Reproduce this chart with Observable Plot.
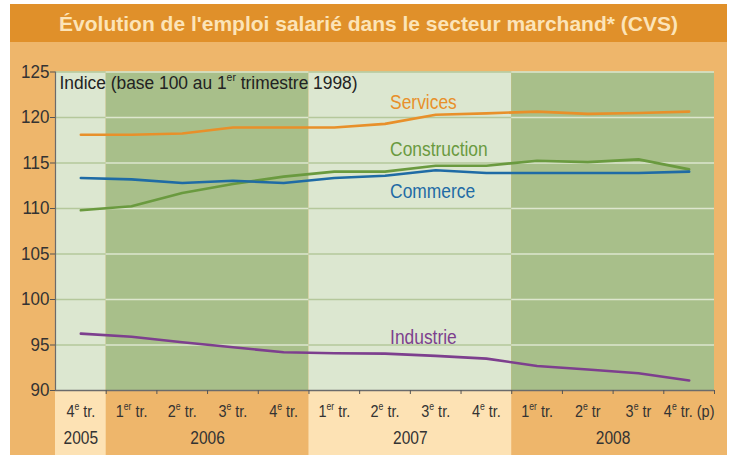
<!DOCTYPE html>
<html><head><meta charset="utf-8">
<script src="https://cdn.jsdelivr.net/npm/d3@7"></script>
<script src="https://cdn.jsdelivr.net/npm/@observablehq/plot@0.6"></script>
<style>
body{margin:0;background:#fff;font-family:"Liberation Sans",Arial,sans-serif;}
#wrap{position:relative;width:736px;height:455px;overflow:hidden;}
#title{position:absolute;left:10px;top:4px;width:717px;height:38px;background:#E0902A;color:#FCE4B8;font-weight:bold;font-size:21px;text-align:center;line-height:39px;}
#panel{position:absolute;left:10px;top:42px;width:717px;height:413px;background:#EEB66B;}
#chart{position:absolute;left:0;top:42px;}
</style></head><body>
<div id="wrap">
<div id="title">Évolution de l'emploi salarié dans le secteur marchand* (CVS)</div>
<div id="panel"></div>
<div id="chart"></div>
</div>
<script>
// ---- data ----
const quarters = ["4{e} tr.","1{er} tr.","2{e} tr.","3{e} tr.","4{e} tr.","1{er} tr.","2{e} tr.","3{e} tr.","4{e} tr.","1{er} tr.","2{e} tr","3{e} tr","4{e} tr. (p)"];
const years = ["2005","2006","2007","2008"];
const quartersPerYear = [1,4,4,4];
const services     = [118.1,118.1,118.25,118.9,118.9,118.9,119.3,120.3,120.45,120.65,120.4,120.5,120.65];
const construction = [109.8,110.25,111.7,112.7,113.5,114.05,114.05,114.7,114.7,115.25,115.1,115.4,114.3];
const commerce     = [113.35,113.2,112.8,113.05,112.8,113.35,113.6,114.2,113.9,113.9,113.9,113.9,114.05];
const industrie    = [96.25,95.9,95.3,94.75,94.2,94.1,94.05,93.8,93.5,92.7,92.3,91.9,91.1];
const seriesNames  = ["Services","Construction","Commerce","Industrie"];
const seriesColors = ["#E8902A","#6A9A3F","#1F6BA5","#7D3F8E"];
const labelX = [6.1,6.1,6.1,6.1];
const labelY = [121.65,116.5,111.9,95.8];
const yTicks = [90,95,100,105,110,115,120,125];
const unitLabel = "Indice (base 100 au 1{er} trimestre 1998)";

// ---- build ----
const allSeries = [services,construction,commerce,industrie];
const n = quarters.length;
const idx = d3.range(n);
const bands = [];
let s = 0;
years.forEach((y,i)=>{bands.push({year:y,x1:s-0.5,x2:s+quartersPerYear[i]-0.5,dark:i%2===1}); s+=quartersPerYear[i];});
const grid = bands.flatMap(b=>yTicks.filter(t=>t>90).map(t=>({...b,t})));
const rows = seriesNames.flatMap((name,k)=>allSeries[k].map((v,i)=>({name,i,v,color:seriesColors[k]})));
const labels = seriesNames.map((name,k)=>({name,x:labelX[k],y:labelY[k],color:seriesColors[k]}));
const boundaries = d3.range(n).map(i=>i+0.5);

// horizontal condensing per text class (narrow face look)
const squeeze = {"t-ytick":0.92,"t-quarter":0.85,"t-year":0.84,"t-series":0.87,"t-unit":0.94};

const chart = Plot.plot({
  width:736, height:413,
  marginTop:29.5, marginLeft:55, marginRight:22, marginBottom:65,
  x:{domain:[-0.5,n-0.5], axis:null},
  y:{domain:[90,125], axis:null},
  style:{background:"transparent", overflow:"visible", fontFamily:'"Liberation Sans",Arial,sans-serif'},
  marks:[
    Plot.rect(bands,{x1:"x1",x2:"x2",fill:d=>d.dark?"#A8BF8A":"#DCE7D0"}),
    Plot.rect(bands.filter(b=>!b.dark),{x1:"x1",x2:"x2",y1:90,y2:90,insetBottom:-65,fill:"#FDE2B4"}),
    Plot.ruleY(grid,{y:"t",x1:"x1",x2:"x2",stroke:d=>d.dark?"#DDE6CE":"#B5C89B",strokeWidth:1.3}),
    Plot.ruleX([-0.5],{stroke:"#6b6b6b",strokeWidth:1.2}),
    Plot.ruleY([90],{stroke:"#6b6b6b",strokeWidth:1.5}),
    Plot.ruleX(boundaries,{y1:90,y2:90,insetBottom:-4,stroke:"#555"}),
    Plot.ruleY(yTicks,{x1:-0.5,x2:-0.5,insetLeft:-5,stroke:"#555"}),
    Plot.text(yTicks,{y:d=>d,text:d=>String(d),frameAnchor:"left",dx:-6,textAnchor:"end",lineAnchor:"middle",fontSize:18.5,fill:"#333",className:"t-ytick"}),
    Plot.line(rows,{x:"i",y:"v",z:"name",stroke:"color",strokeWidth:2.6}),
    Plot.text(labels,{x:"x",y:"y",text:"name",fill:"color",textAnchor:"start",fontSize:20,className:"t-series"}),
    Plot.text([unitLabel],{frameAnchor:"top-left",text:d=>d,dx:4,dy:11,lineAnchor:"middle",textAnchor:"start",fontSize:18.5,fill:"#222",className:"t-unit"}),
    Plot.text(idx,{x:d=>d,text:d=>quarters[d],frameAnchor:"bottom",dy:21,lineAnchor:"middle",fontSize:17,fill:"#333",className:"t-quarter"}),
    Plot.text(bands,{x:d=>(d.x1+d.x2)/2,text:"year",frameAnchor:"bottom",dy:48,lineAnchor:"middle",fontSize:18.5,fill:"#333",className:"t-year"})
  ]
});
document.getElementById("chart").appendChild(chart);

// superscripts {xx} and horizontal condensing
chart.querySelectorAll("text").forEach(t=>{
  const g = t.closest("g[class]");
  const cls = g ? Object.keys(squeeze).find(c=>g.classList.contains(c)) : null;
  const str = t.textContent;
  if (str.includes("{")) {
    const fs = parseFloat(getComputedStyle(t).fontSize) || 16;
    const shift = Math.round(fs*0.42);
    while (t.firstChild) t.removeChild(t.firstChild);
    let raised = false;
    str.split(/(\{[^}]*\})/).forEach(p=>{
      if (!p) return;
      const ts = document.createElementNS("http://www.w3.org/2000/svg","tspan");
      if (p.startsWith("{")) {
        ts.textContent = p.slice(1,-1);
        ts.setAttribute("font-size",(fs*0.6).toFixed(1));
        ts.setAttribute("dy",-shift);
        raised = true;
      } else {
        ts.textContent = p;
        if (raised) { ts.setAttribute("dy",shift); raised = false; }
      }
      t.appendChild(ts);
    });
  }
  if (cls) {
    const k = squeeze[cls];
    const ax = parseFloat(t.getAttribute("x")) || 0;
    const T = t.getAttribute("transform") || "";
    t.setAttribute("transform", `${T} translate(${ax},0) scale(${k},1) translate(${-ax},0)`);
  }
});
</script>
</body></html>
